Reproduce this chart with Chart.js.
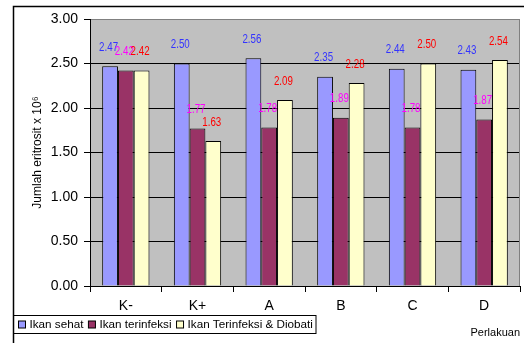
<!DOCTYPE html>
<html>
<head>
<meta charset="utf-8">
<style>
  html, body { margin: 0; padding: 0; background: #ffffff; }
  #wrap { width: 524px; height: 343px; position: relative; }
  canvas { display: block; }
</style>
<script src="https://cdn.jsdelivr.net/npm/chart.js@4.4.1/dist/chart.umd.min.js"></script>
</head>
<body>
<div id="wrap"><canvas id="chart" width="524" height="343"></canvas></div>
<script>
// Treatment groups
const categories = ['K-', 'K+', 'A', 'B', 'C', 'D'];

// Erythrocyte counts (x 10^6) per group
const ikanSehat = [2.47, 2.50, 2.56, 2.35, 2.44, 2.43];
const ikanTerinfeksi = [2.42, 1.77, 1.78, 1.89, 1.78, 1.87];
const ikanDiobati = [2.42, 1.63, 2.09, 2.28, 2.50, 2.54];

const seriesNames = ['Ikan sehat', 'Ikan terinfeksi', 'Ikan Terinfeksi & Diobati'];
const yTicks = [0, 0.5, 1.0, 1.5, 2.0, 2.5, 3.0];

const FONT = '"Liberation Sans", Arial, sans-serif';
const fills = ['#9999FF', '#993366', '#FFFFCC'];
const labelColors = ['#3333FF', '#FF00FF', '#FF0000'];

// Grey plot background and the outer frame of the chart
const frame = {
  id: 'frame',
  beforeDraw(chart) {
    const { ctx, chartArea: a } = chart;
    ctx.save();
    ctx.fillStyle = '#C0C0C0';
    ctx.fillRect(a.left, a.top, a.right - a.left, a.bottom - a.top);
    ctx.restore();
  },
  afterDraw(chart) {
    const { ctx, chartArea: a } = chart;
    ctx.save();
    // plot area right border
    ctx.strokeStyle = '#808080';
    ctx.lineWidth = 1;
    ctx.beginPath();
    ctx.moveTo(a.right - 0.5, a.top);
    ctx.lineTo(a.right - 0.5, a.bottom);
    ctx.stroke();
    // outer frame
    ctx.strokeStyle = '#000000';
    ctx.lineWidth = 1.5;
    ctx.beginPath();
    ctx.moveTo(13.5, 360);
    ctx.lineTo(13.5, 6.5);
    ctx.lineTo(540, 6.5);
    ctx.stroke();
    ctx.restore();
  }
};

// Value labels above each bar, in a narrow face
const valueLabels = {
  id: 'valueLabels',
  afterDatasetsDraw(chart) {
    const { ctx } = chart;
    ctx.save();
    ctx.font = '13px ' + FONT;
    ctx.textAlign = 'center';
    ctx.textBaseline = 'middle';
    chart.data.datasets.forEach((ds, i) => {
      const meta = chart.getDatasetMeta(i);
      meta.data.forEach((bar, j) => {
        ctx.save();
        ctx.translate(bar.x - 1.5, bar.y - 19);
        ctx.scale(0.75, 1);
        ctx.fillStyle = labelColors[i];
        ctx.fillText(ds.data[j].toFixed(2), 0, 0);
        ctx.restore();
      });
    });
    ctx.restore();
  }
};

// Boxed legend in the lower left
const boxedLegend = {
  id: 'boxedLegend',
  afterDraw(chart) {
    const { ctx } = chart;
    ctx.save();
    ctx.strokeStyle = '#000000';
    ctx.lineWidth = 1;
    ctx.strokeRect(13.5, 315.5, 302.5, 18);
    ctx.font = '11.7px ' + FONT;
    ctx.textBaseline = 'middle';
    ctx.textAlign = 'left';
    let x = 18.5;
    const y = 325;
    chart.data.datasets.forEach((ds) => {
      ctx.fillStyle = ds.backgroundColor;
      ctx.fillRect(x, y - 4, 7, 7);
      ctx.strokeStyle = '#000000';
      ctx.strokeRect(x, y - 4, 7, 7);
      ctx.fillStyle = '#000000';
      ctx.fillText(ds.label, x + 11, y);
      x += 11 + ctx.measureText(ds.label).width + 5;
    });
    ctx.restore();
  }
};

new Chart(document.getElementById('chart'), {
  type: 'bar',
  data: {
    labels: categories,
    datasets: [
      { label: seriesNames[0], data: ikanSehat, backgroundColor: fills[0] },
      { label: seriesNames[1], data: ikanTerinfeksi, backgroundColor: fills[1] },
      { label: seriesNames[2], data: ikanDiobati, backgroundColor: fills[2] }
    ].map(d => Object.assign(d, {
      borderColor: '#000000',
      borderWidth: 1,
      barPercentage: 1,
      categoryPercentage: 0.66
    }))
  },
  options: {
    responsive: false,
    animation: false,
    devicePixelRatio: 1,
    layout: { padding: { left: 0, top: 19, right: 4, bottom: 0 } },
    plugins: {
      legend: { display: false },
      tooltip: { enabled: false }
    },
    scales: {
      x: {
        afterFit(scale) { scale.height = 57; },
        grid: {
          display: true,
          drawOnChartArea: false,
          drawTicks: true,
          tickLength: 6,
          tickColor: '#000000',
          offset: true
        },
        border: { display: true, color: '#000000', width: 1 },
        ticks: {
          color: '#000000',
          padding: 6,
          font: { family: FONT, size: 14 }
        },
        title: {
          display: true,
          text: 'Perlakuan',
          align: 'end',
          color: '#000000',
          font: { family: FONT, size: 11 },
          padding: { top: 0, bottom: 3 }
        }
      },
      y: {
        min: 0,
        max: 3,
        afterFit(scale) { scale.width = 90; },
        afterBuildTicks(scale) { scale.ticks = yTicks.map(v => ({ value: v })); },
        grid: {
          color: ctx => (ctx.tick && ctx.tick.value === 3 ? '#808080' : '#000000'),
          tickColor: '#000000',
          tickLength: 6,
          lineWidth: 1
        },
        border: { display: true, color: '#000000', width: 1 },
        ticks: {
          color: '#000000',
          padding: 6,
          font: { family: FONT, size: 14 },
          callback: v => Number(v).toFixed(2)
        },
        title: {
          display: true,
          text: 'Jumlah eritrosit x 10\u2076',
          color: '#000000',
          font: { family: FONT, size: 12 },
          padding: { top: 30, bottom: 0 }
        }
      }
    }
  },
  plugins: [frame, valueLabels, boxedLegend]
});
</script>
</body>
</html>
